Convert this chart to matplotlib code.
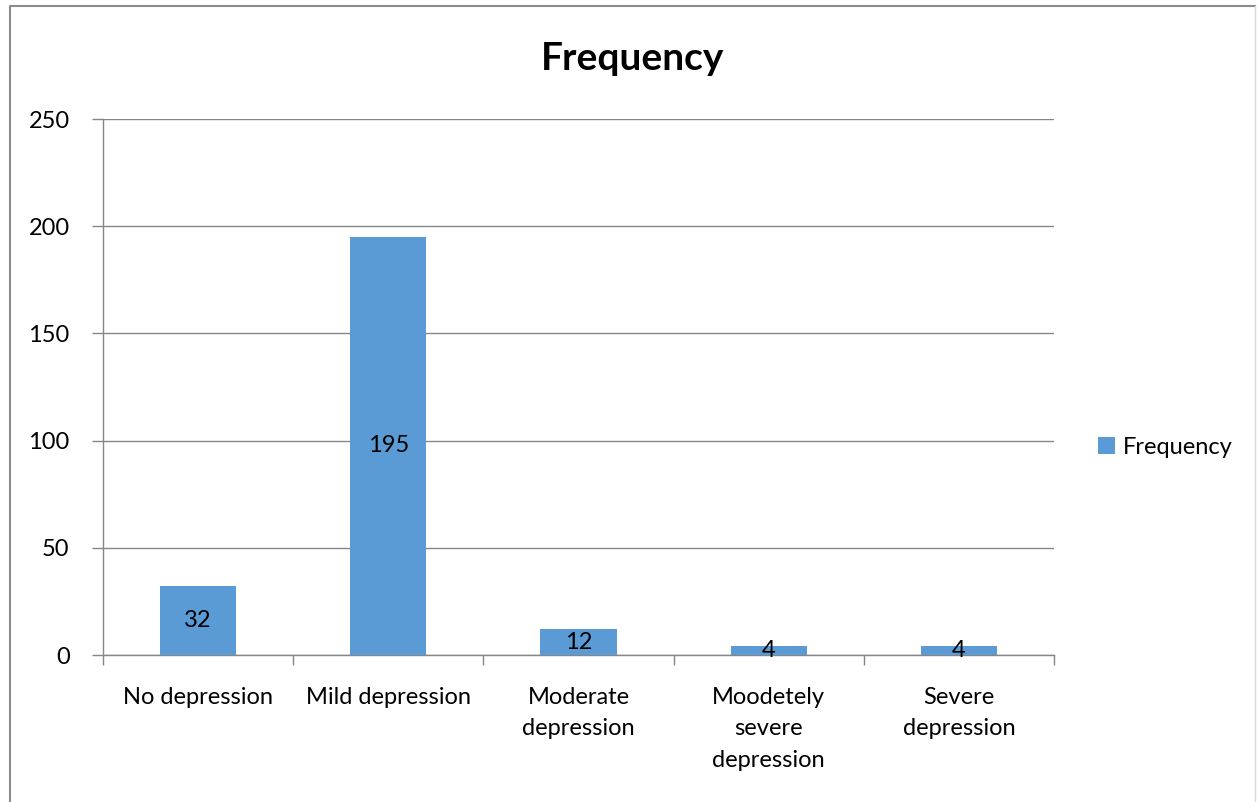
import matplotlib.pyplot as plt
from matplotlib.lines import Line2D

categories = ["No depression", "Mild depression", "Moderate\ndepression",
              "Moodetely\nsevere\ndepression", "Severe\ndepression"]
frequency = [32, 195, 12, 4, 4]
y_ticks = [0, 50, 100, 150, 200, 250]

plt.rcParams["font.family"] = ["Lato", "DejaVu Sans"]
FS = 17

W, H = 1257, 802
fig = plt.figure(figsize=(W / 100, H / 100), dpi=100)
ax = fig.add_axes([103 / W, 1 - 655 / H, (1054 - 103) / W, (655 - 119) / H])

x = range(len(categories))
bars = ax.bar(x, frequency, width=0.4, color="#5B9BD5", label="Frequency", zorder=3)
for b, v in zip(bars, frequency):
    ax.text(b.get_x() + b.get_width() / 2, v / 2, str(v), ha="center", va="center",
            fontsize=FS, color="black", zorder=4)

ax.set_xlim(-0.5, len(categories) - 0.5)
ax.set_ylim(0, 250)
ax.set_yticks(y_ticks)
ax.set_yticklabels([str(t) for t in y_ticks], fontsize=FS)
ax.yaxis.grid(True, color="#868686", linewidth=1, zorder=0)
ax.tick_params(axis="y", length=8, color="#868686", pad=16, width=1)

ax.set_xticks([i + 0.5 for i in range(-1, len(categories))])
ax.set_xticklabels([])
ax.tick_params(axis="x", length=7, color="#868686", width=1)
for i, lab in enumerate(categories):
    ax.text(i, -15, lab, ha="center", va="top", fontsize=FS, linespacing=1.6)

for s in ["top", "right"]:
    ax.spines[s].set_visible(False)
for s in ["left", "bottom"]:
    ax.spines[s].set_color("#868686")
    ax.spines[s].set_linewidth(1)

fig.text(633 / W, 1 - 58 / H, "Frequency", fontsize=28, fontweight="bold",
         ha="center", va="center")

ax.legend(loc="center left", bbox_to_anchor=(1.024, 0.388), frameon=False,
          fontsize=FS, handlelength=0.7, handleheight=0.7, handletextpad=0.35)

# outer chart border (left, top, right)
fx = [10 / W, 10 / W, 1255 / W, 1255 / W]
fy = [0, 1 - 6 / H, 1 - 6 / H, 0]
fig.add_artist(Line2D(fx[:3], fy[:3], transform=fig.transFigure,
                      color="#8c8c8c", linewidth=1.5))
fig.add_artist(Line2D(fx[2:], fy[2:], transform=fig.transFigure,
                      color="#d9d9d9", linewidth=1))

fig.savefig("out.png", dpi=100)
